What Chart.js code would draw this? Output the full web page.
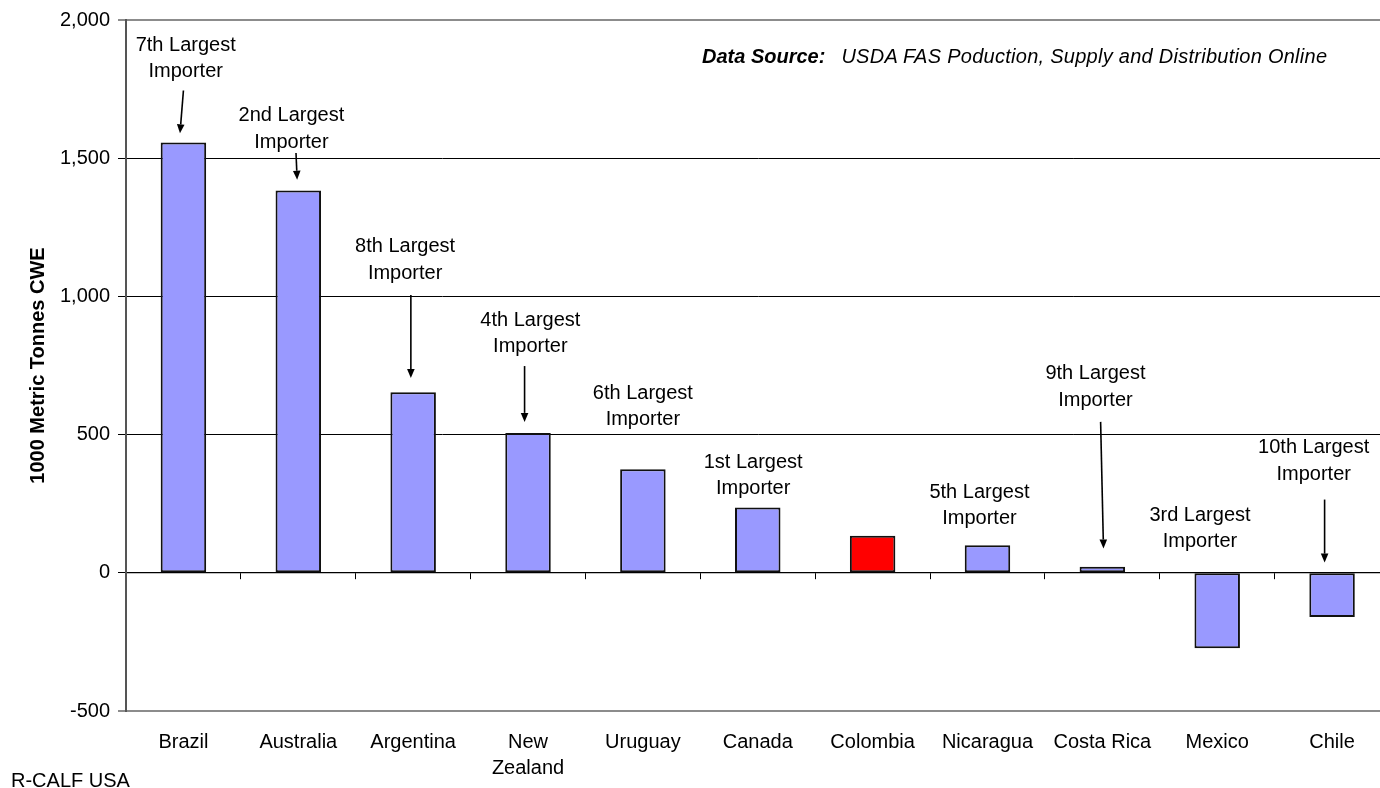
<!DOCTYPE html>
<html>
<head>
<meta charset="utf-8">
<script src="https://cdn.jsdelivr.net/npm/chart.js@4.4.0/dist/chart.umd.min.js"></script>
<style>
  html, body { margin: 0; padding: 0; background: #fff; }
  #wrap { position: relative; width: 1380px; height: 788px; overflow: hidden; font-family: Arial, "Liberation Sans", sans-serif; }
  #chart { position: absolute; left: 0; top: 0; }
  .note { position: absolute; font-size: 20px; line-height: 20px; white-space: nowrap; color: #000; }
</style>
</head>
<body>
<div id="wrap">
  <canvas id="chart" width="1400" height="788"></canvas>
  <div class="note" style="left:702px; top:46px; font-style:italic;"><b>Data Source:</b><span style="margin-left:16px; letter-spacing:0.27px">USDA FAS Poduction, Supply and Distribution Online</span></div>
  <div class="note" style="left:11px; top:770px;">R-CALF USA</div>
</div>
<script>
// Net exports, 1000 metric tonnes CWE
const countries = ['Brazil', 'Australia', 'Argentina', ['New', 'Zealand'], 'Uruguay', 'Canada', 'Colombia', 'Nicaragua', 'Costa Rica', 'Mexico', 'Chile'];
const netExports = [1557, 1383, 653, 506, 375, 236, 134, 100, 22, -273, -160];
const highlighted = 'Colombia';

// y axis
const yMin = -500;
const yMax = 2000;
const yStep = 500;

// importer rank labels above the bars (empty = no label)
const importerRanks = ['7th', '2nd', '8th', '4th', '6th', '1st', '', '5th', '9th', '3rd', '10th'];

// where each label sits: [category offset, value of first baseline]
const rankLabelAt = [
  [0.02, 1889], [-0.06, 1633], [-0.07, 1160], [0.02, 893], [0, 630],
  [-0.04, 380], null, [-0.07, 272], [-0.06, 701], [-0.15, 188], [-0.16, 433]
];

// arrows: bar index, start [offset, value], end [offset, value]
const arrows = [
  { bar: 0, from: [0, 1745], to: [-0.03, 1590] },
  { bar: 1, from: [-0.02, 1519], to: [-0.01, 1422] },
  { bar: 2, from: [-0.02, 1005], to: [-0.02, 705] },
  { bar: 3, from: [-0.03, 748], to: [-0.03, 546] },
  { bar: 8, from: [-0.015, 546], to: [0.01, 88] },
  { bar: 10, from: [-0.065, 265], to: [-0.065, 37] }
];

const FONT = 'Arial, "Liberation Sans", sans-serif';
const barColors = countries.map(c => c === highlighted ? '#FF0000' : '#9999FF');

const notesPlugin = {
  id: 'notes',
  afterDatasetsDraw(chart) {
    const { ctx, scales: { x, y } } = chart;
    ctx.save();
    ctx.font = '20px ' + FONT;
    ctx.fillStyle = '#000';
    ctx.textAlign = 'center';
    ctx.textBaseline = 'alphabetic';
    importerRanks.forEach((rank, i) => {
      if (!rank) return;
      const [dx, v] = rankLabelAt[i];
      const px = x.getPixelForValue(i + dx);
      const py = y.getPixelForValue(v);
      ctx.fillText(rank + ' Largest', px, py);
      ctx.fillText('Importer', px, py + 26.5);
    });

    ctx.strokeStyle = '#000';
    ctx.lineWidth = 1.6;
    arrows.forEach(a => {
      const x0 = x.getPixelForValue(a.bar + a.from[0]);
      const y0 = y.getPixelForValue(a.from[1]);
      const x1 = x.getPixelForValue(a.bar + a.to[0]);
      const y1 = y.getPixelForValue(a.to[1]);
      const ang = Math.atan2(y1 - y0, x1 - x0);
      const len = 9, half = 3.8;
      const bx = x1 - len * Math.cos(ang), by = y1 - len * Math.sin(ang);
      ctx.beginPath();
      ctx.moveTo(x0, y0);
      ctx.lineTo(bx, by);
      ctx.stroke();
      ctx.beginPath();
      ctx.moveTo(x1, y1);
      ctx.lineTo(bx + half * Math.sin(ang), by - half * Math.cos(ang));
      ctx.lineTo(bx - half * Math.sin(ang), by + half * Math.cos(ang));
      ctx.closePath();
      ctx.fill();
    });
    ctx.restore();
  }
};

new Chart(document.getElementById('chart'), {
  type: 'bar',
  data: {
    labels: countries,
    datasets: [{
      data: netExports,
      backgroundColor: barColors,
      borderColor: '#111',
      borderWidth: 2,
      borderSkipped: false,
      barPercentage: 0.396,
      categoryPercentage: 1
    }]
  },
  options: {
    responsive: false,
    animation: false,
    layout: { padding: { left: 0, right: 10.5, top: 19, bottom: 0 } },
    plugins: { legend: { display: false }, tooltip: { enabled: false } },
    scales: {
      x: {
        position: 'bottom',
        grid: { display: false, drawTicks: false },
        border: { display: false },
        ticks: {
          color: '#000',
          font: { family: FONT, size: 20, lineHeight: 1.3 },
          padding: 18,
          maxRotation: 0,
          autoSkip: false
        },
        afterFit(scale) { scale.height = 77; }
      },
      xZero: {
        type: 'category',
        position: { y: 0 },
        grid: { offset: true, drawOnChartArea: false, tickLength: 6, color: '#000', lineWidth: 1 },
        border: { color: '#000', width: 1.2 },
        ticks: { display: false }
      },
      y: {
        min: yMin,
        max: yMax,
        ticks: {
          stepSize: yStep,
          color: '#000',
          padding: 8,
          font: { family: FONT, size: 20 },
          callback: v => v.toLocaleString('en-US')
        },
        grid: {
          tickLength: 8,
          color: ctx => (ctx.tick && (ctx.tick.value === yMax || ctx.tick.value === yMin)) ? '#8c8c8c' : '#000',
          lineWidth: ctx => (ctx.tick && (ctx.tick.value === yMax || ctx.tick.value === yMin)) ? 2 : 1
        },
        border: { color: '#555', width: 2 },
        title: {
          display: true,
          text: '1000 Metric Tonnes CWE',
          color: '#000',
          font: { family: FONT, size: 20, weight: 'bold' },
          padding: { top: 26, bottom: 0 }
        },
        afterFit(scale) { scale.width = 126; }
      }
    }
  },
  plugins: [notesPlugin]
});
</script>
</body>
</html>
